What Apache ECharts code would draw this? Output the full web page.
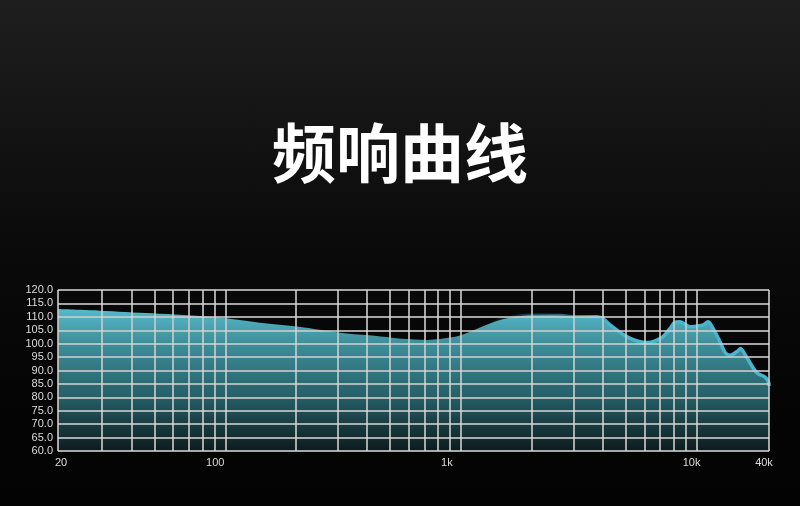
<!DOCTYPE html>
<html>
<head>
<meta charset="utf-8">
<script src="https://cdn.jsdelivr.net/npm/echarts@6/dist/echarts.min.js"></script>
<style>
  html, body { margin: 0; padding: 0; width: 800px; height: 506px; overflow: hidden; }
  body { background: linear-gradient(to bottom, #1e1e1e 0%, #141414 25%, #0a0a0a 50%, #050505 75%, #030303 100%); }
  #chart { width: 800px; height: 506px; }
</style>
</head>
<body>
<div id="chart"></div>
<script>
// ---- Data ----
const titleText = '频响曲线';
const freqs = [19.5, 24.2, 29.4, 48.9, 90.5, 140.4, 205.5, 306.9, 407.4, 510.3, 614.3, 718, 815, 991, 1206, 1466, 1782, 2024, 2634, 3050, 3364, 3783, 4051, 4295, 4735, 5223, 5760, 6166, 6668, 7211, 7720, 8106, 8513, 8940, 9387, 10051, 10658, 11192, 11752, 12584, 13218, 13878, 14914, 15357, 16126, 17270, 18132, 19421, 20195, 20300];
const spl   = [112.9, 112.6, 112.3, 111.3, 109.8, 107.8, 106.3, 104.1, 103.1, 102.2, 101.6, 101.4, 101.7, 103.0, 106.0, 108.8, 110.3, 110.6, 110.5, 110.0, 110.0, 110.0, 109.0, 107.0, 104.2, 102.0, 100.7, 100.4, 101.0, 102.6, 105.7, 108.0, 108.2, 107.2, 106.3, 106.6, 107.0, 108.2, 105.7, 100.7, 96.7, 95.7, 97.2, 98.2, 95.7, 91.4, 88.9, 87.7, 85.8, 84.2];
const xMin = 19.5, xMax = 20300;
const yMin = 60, yMax = 120, yStep = 5;
const yTicks = [60, 65, 70, 75, 80, 85, 90, 95, 100, 105, 110, 115, 120];
const xGridFreqs = [30, 40, 50, 60, 70, 80, 90, 100, 200, 300, 400, 500, 600, 700, 800, 900, 1000, 2000, 3000, 4000, 5000, 6000, 7000, 8000, 9000, 10000];
const xTickValues = [20, 100, 1000, 10000, 20000];
const xTickLabels = ['20', '100', '1k', '10k', '40k'];

// ---- Chart ----
const chart = echarts.init(document.getElementById('chart'), null, { renderer: 'canvas' });
const pairs = freqs.map((f, i) => [f, spl[i]]);

function gridLines(color, width) {
  const data = [];
  yTicks.forEach(v => data.push({ yAxis: v }));
  xGridFreqs.forEach(f => data.push({ xAxis: f }));
  data.push({ xAxis: xMin });
  data.push({ xAxis: xMax });
  return {
    symbol: ['none', 'none'], silent: true, animation: false,
    label: { show: false },
    lineStyle: { color: color, width: width, type: 'solid' },
    emphasis: { disabled: true },
    data: data
  };
}

const tickRich = {
  t0: { padding: [0, 0, 0, 6] },
  t1: { padding: [0, 20, 0, 0] },
  t2: { padding: [0, 28, 0, 0] },
  t3: { padding: [0, 10, 0, 0] },
  t4: { padding: [0, 10, 0, 0] }
};

const option = {
  backgroundColor: 'transparent',
  animation: false,
  title: {
    text: titleText, left: 'center', top: 116,
    textStyle: { color: '#ffffff', fontSize: 64, fontWeight: 'bold', fontFamily: '"Noto Sans CJK SC", sans-serif' }
  },
  grid: { left: 58, right: 31, top: 290, bottom: 55 },
  xAxis: {
    type: 'log', logBase: 10, min: xMin, max: xMax,
    axisLine: { show: false }, axisTick: { show: false }, splitLine: { show: false },
    axisLabel: {
      show: true, showMinLabel: true, showMaxLabel: true, margin: 6,
      color: '#dcdcdc', fontSize: 11, fontFamily: '"Liberation Sans", Arial, sans-serif',
      formatter: function (v) {
        let best = 0, bd = Infinity;
        xTickValues.forEach((t, i) => {
          const d = Math.abs(Math.log10(v) - Math.log10(t));
          if (d < bd) { bd = d; best = i; }
        });
        return '{t' + best + '|' + xTickLabels[best] + '}';
      },
      rich: tickRich
    }
  },
  yAxis: {
    type: 'value', min: yMin, max: yMax, interval: yStep,
    axisLine: { show: false }, axisTick: { show: false }, splitLine: { show: false },
    axisLabel: {
      margin: 5, color: '#dcdcdc', fontSize: 11, fontFamily: '"Liberation Sans", Arial, sans-serif',
      formatter: v => v.toFixed(1)
    }
  },
  series: [
    {
      type: 'line', data: pairs, z: 1, symbol: 'none', silent: true,
      lineStyle: { opacity: 0 },
      markLine: gridLines('#b8b8b8', 1.5)
    },
    {
      type: 'line', data: pairs, z: 2, smooth: 0.3, symbol: 'none', silent: true,
      lineStyle: {
        width: 3.5,
        color: new echarts.graphic.LinearGradient(0, 0, 1, 0, [
          { offset: 0, color: 'rgba(72,182,204,0)' },
          { offset: 0.6, color: 'rgba(72,182,204,0)' },
          { offset: 0.78, color: 'rgba(72,182,204,1)' },
          { offset: 1, color: 'rgba(72,182,204,1)' }
        ])
      },
      areaStyle: {
        opacity: 1,
        color: new echarts.graphic.LinearGradient(0, 0, 0, 1, [
          { offset: 0, color: '#56b9ca' },
          { offset: 0.24, color: '#3d8f9a' },
          { offset: 0.62, color: '#245f66' },
          { offset: 0.9, color: '#132d30' },
          { offset: 1, color: '#0d1a1c' }
        ])
      }
    },
    {
      type: 'line', data: pairs, z: 3, symbol: 'none', silent: true,
      lineStyle: { opacity: 0 },
      markLine: gridLines('rgba(255,255,255,0.3)', 1.5)
    }
  ]
};
chart.setOption(option);
</script>
</body>
</html>
